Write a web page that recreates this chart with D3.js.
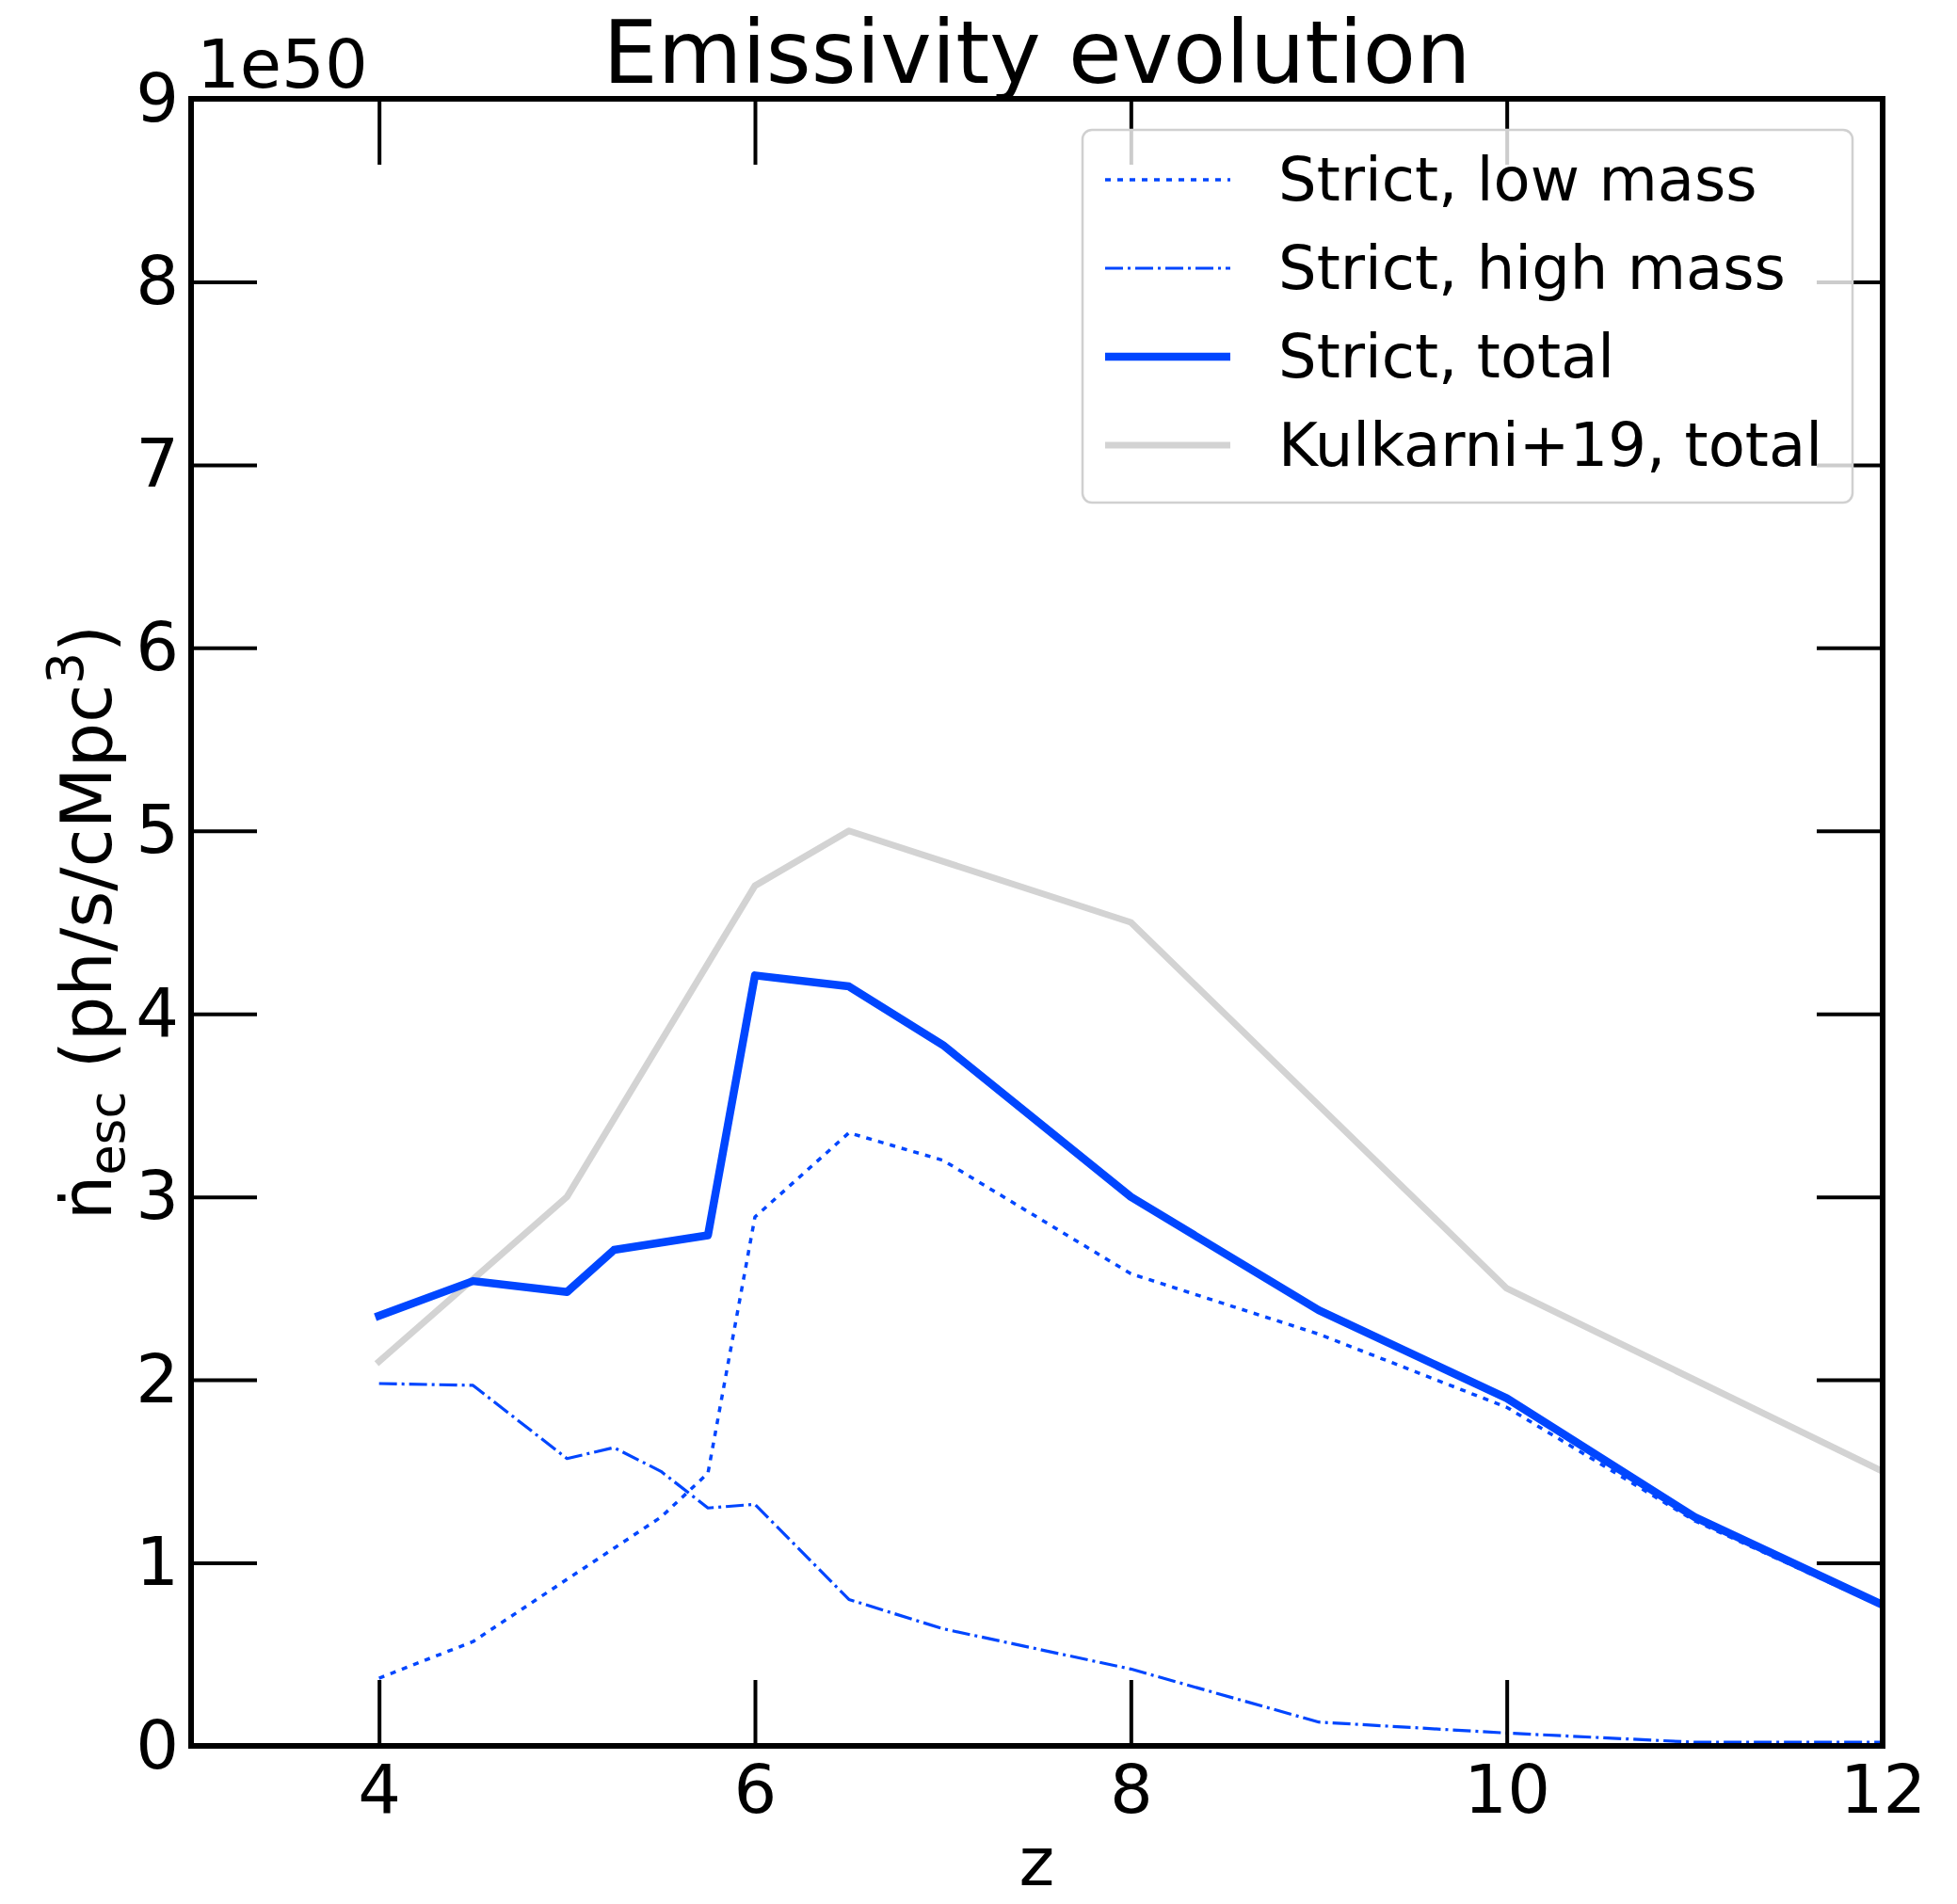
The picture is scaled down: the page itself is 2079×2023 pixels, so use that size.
<!DOCTYPE html>
<html>
<head>
<meta charset="utf-8">
<script src="https://cdn.jsdelivr.net/npm/d3@7"></script>
<style>
  body { margin: 0; background: #fff; }
  text { font-family: "DejaVu Sans", sans-serif; fill: #000; }
</style>
</head>
<body>
<svg id="canvas" width="2079" height="2023"></svg>
<script>
// values, in units of 1e50
const zValues = [4, 4.5, 5, 5.25, 5.5, 5.75, 6, 6.5, 7, 8, 9, 10, 11, 12];
const strictLowMass = [0.37, 0.57, 0.91, 1.08, 1.25, 1.49, 2.89, 3.35, 3.2, 2.58, 2.25, 1.85, 1.23, 0.76];
const strictHighMass = [1.98, 1.97, 1.57, 1.63, 1.5, 1.3, 1.32, 0.8, 0.64, 0.42, 0.13, 0.07, 0.02, 0.02];
const strictTotal = [2.35, 2.54, 2.48, 2.71, 2.75, 2.79, 4.21, 4.15, 3.83, 3.0, 2.38, 1.9, 1.25, 0.77];

const kulkarniZ = [4, 5, 6, 6.5, 8, 10, 12];
const kulkarniTotal = [2.1, 3.0, 4.7, 5.0, 4.5, 2.5, 1.5];

const xTicks = [4, 6, 8, 10, 12];
const yTicks = [0, 1, 2, 3, 4, 5, 6, 7, 8, 9];

const blue = "#0046ff";
const gray = "#d3d3d3";

const seriesInfo = [
  {label: "Strict, low mass", x: zValues, y: strictLowMass, color: blue, width: 3.5, dash: "6,7", cap: "butt"},
  {label: "Strict, high mass", x: zValues, y: strictHighMass, color: blue, width: 3.2, dash: "19,5,3,5", cap: "butt"},
  {label: "Strict, total", x: zValues, y: strictTotal, color: blue, width: 8.5, dash: null, cap: "square"},
  {label: "Kulkarni+19, total", x: kulkarniZ, y: kulkarniTotal, color: gray, width: 7, dash: null, cap: "square"}
]

let margin = {left: 203, right: 79, top: 105, bottom: 168}
let width = 2079 - margin.left - margin.right
let height = 2023 - margin.top - margin.bottom

let canvas = d3.select("#canvas")

let x = d3.scaleLinear().domain([3, 12]).range([0, width])
let y = d3.scaleLinear().domain([0, 9]).range([height, 0])

let g = canvas.append("g")
              .attr("transform", `translate(${margin.left},${margin.top})`)

g.append("clipPath")
 .attr("id", "plotclip")
 .append("rect")
 .attr("width", width)
 .attr("height", height)

// lines, drawn back to front like the original
let lineGen = d3.line()
                .x((d) => x(d[0]))
                .y((d) => y(d[1]))

let drawOrder = [3, 0, 1, 2]
drawOrder.forEach((i) => {
  let s = seriesInfo[i]
  let pts = s.x.map((v, k) => [v, s.y[k]])
  g.append("path")
   .attr("clip-path", "url(#plotclip)")
   .attr("d", lineGen(pts))
   .attr("fill", "none")
   .attr("stroke", s.color)
   .attr("stroke-width", s.width)
   .attr("stroke-linejoin", "round")
   .attr("stroke-linecap", s.cap)
   .attr("stroke-dasharray", s.dash)
})

// axes with inward ticks on all four sides
function styleAxis(sel) {
  sel.select(".domain").remove()
  sel.selectAll(".tick line").attr("stroke", "#000").attr("stroke-width", 4)
  sel.selectAll(".tick text").style("font-size", "72px").attr("fill", "#000")
}

g.append("g")
 .attr("transform", `translate(0,${height})`)
 .call(d3.axisBottom(x).tickValues(xTicks).tickSize(-70).tickPadding(20).tickFormat(d3.format("d")))
 .call(styleAxis)

g.append("g")
 .call(d3.axisLeft(y).tickValues(yTicks).tickSize(-70).tickPadding(13).tickFormat(d3.format("d")))
 .call(styleAxis)

g.append("g")
 .call(d3.axisTop(x).tickValues(xTicks).tickSize(-70).tickFormat(""))
 .call(styleAxis)

g.append("g")
 .attr("transform", `translate(${width},0)`)
 .call(d3.axisRight(y).tickValues(yTicks).tickSize(-70).tickFormat(""))
 .call(styleAxis)

// spines
g.append("rect")
 .attr("width", width)
 .attr("height", height)
 .attr("fill", "none")
 .attr("stroke", "#000")
 .attr("stroke-width", 6)

// offset text, title, labels
g.append("text")
 .attr("x", 6)
 .attr("y", -12)
 .style("font-size", "72px")
 .text("1e50")

g.append("text")
 .attr("x", width / 2)
 .attr("y", -17)
 .attr("text-anchor", "middle")
 .style("font-size", "92px")
 .text("Emissivity evolution")

g.append("text")
 .attr("x", width / 2)
 .attr("y", height + 148)
 .attr("text-anchor", "middle")
 .style("font-size", "72px")
 .text("z")

let ylab = g.append("text")
            .attr("transform", `translate(${118 - margin.left},${height / 2}) rotate(-90)`)
            .attr("text-anchor", "middle")
            .style("font-size", "75px")
ylab.append("tspan").text("\u1E45")
ylab.append("tspan").attr("dy", 14).style("font-size", "53px").text("esc")
ylab.append("tspan").attr("dy", -14).text(" (ph/s/cMpc")
ylab.append("tspan").attr("dy", -30).style("font-size", "53px").text("3")
ylab.append("tspan").attr("dy", 30).text(")")

// legend
let legend = canvas.append("g").attr("id", "legend")
legend.append("rect")
      .attr("x", 1150)
      .attr("y", 138)
      .attr("width", 818)
      .attr("height", 396)
      .attr("rx", 10)
      .attr("fill", "#fff")
      .attr("fill-opacity", 0.8)
      .attr("stroke", "#d0d0d0")
      .attr("stroke-width", 2.5)

let items = legend.selectAll("g.item")
                  .data(seriesInfo)
                  .enter()
                  .append("g")
                  .attr("class", "item")
                  .attr("transform", (d, i) => `translate(0,${191 + i * 94})`)

items.append("line")
     .attr("x1", 1174)
     .attr("x2", 1307)
     .attr("stroke", (d) => d.color)
     .attr("stroke-width", (d) => d.width)
     .attr("stroke-dasharray", (d) => d.dash)
     .attr("stroke-linecap", "butt")

items.append("text")
     .attr("x", 1358)
     .attr("dy", "0.35em")
     .style("font-size", "64px")
     .text((d) => d.label)
</script>
</body>
</html>
